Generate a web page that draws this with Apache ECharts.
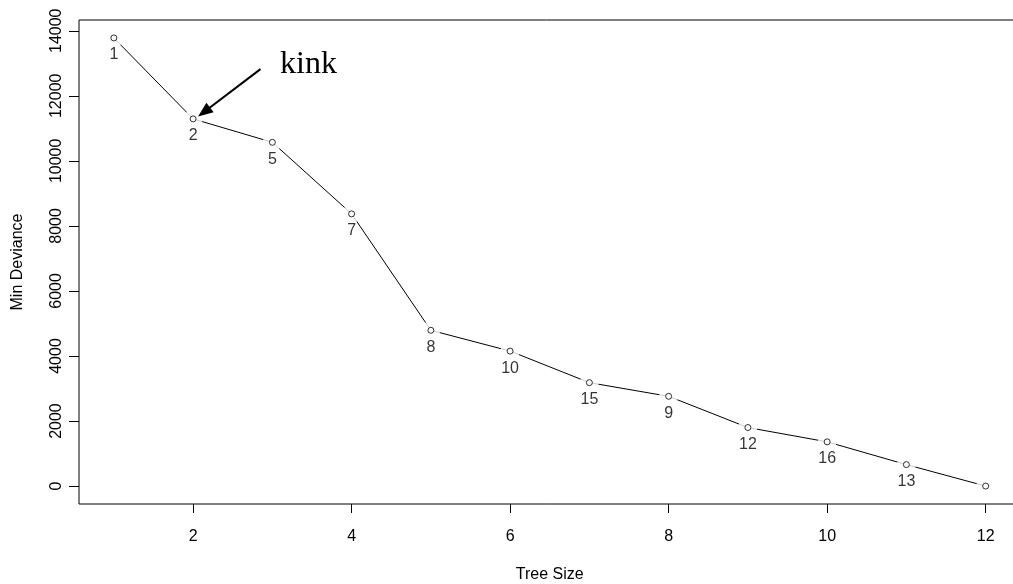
<!DOCTYPE html>
<html>
<head>
<meta charset="utf-8">
<script src="https://cdn.jsdelivr.net/npm/echarts@6/dist/echarts.min.js"></script>
<style>
  html, body { margin: 0; padding: 0; background: #fff; }
  #chart { width: 1013px; height: 584px; }
</style>
</head>
<body>
<div id="chart"></div>
<script>
// Cost-complexity pruning: minimum deviance for each tree size
const treeSize = [1, 2, 3, 4, 5, 6, 7, 8, 9, 10, 11, 12];
const minDeviance = [13780, 11290, 10570, 8370, 4790, 4150, 3180, 2760, 1800, 1360, 660, 0];
const nodeLabels = ['1', '2', '5', '7', '8', '10', '15', '9', '12', '16', '13', ''];
const xTicks = [2, 4, 6, 8, 10, 12];
const yTicks = [0, 2000, 4000, 6000, 8000, 10000, 12000, 14000];

// base-graphics style padding: 4% of the data range on each side
const xPad = 0.04 * (Math.max(...treeSize) - Math.min(...treeSize));
const yPad = 0.04 * (Math.max(...minDeviance) - Math.min(...minDeviance));

const points = treeSize.map((x, i) => [x, minDeviance[i]]);
const FONT = '"Liberation Sans", Arial, sans-serif';

const chart = echarts.init(document.getElementById('chart'), null, { renderer: 'canvas' });
chart.setOption({
  animation: false,
  backgroundColor: '#fff',
  grid: {
    left: 79, top: 20, width: 941.5, height: 484,
    outerBoundsMode: 'none',
    containLabel: false,
    show: true, borderColor: '#000', borderWidth: 1, backgroundColor: 'transparent'
  },
  xAxis: {
    type: 'value',
    min: Math.min(...treeSize) - xPad,
    max: Math.max(...treeSize) + xPad,
    name: 'Tree Size',
    nameLocation: 'middle',
    nameGap: 63,
    nameTextStyle: { color: '#000', fontSize: 16, fontFamily: FONT },
    axisLine: { show: false, onZero: false },
    splitLine: { show: false },
    axisTick: { show: true, inside: false, length: 9, lineStyle: { color: '#000' }, customValues: xTicks },
    axisLabel: { color: '#000', fontSize: 16, fontFamily: FONT, margin: 25, customValues: xTicks }
  },
  yAxis: {
    type: 'value',
    min: Math.min(...minDeviance) - yPad,
    max: Math.max(...minDeviance) + yPad,
    name: 'Min Deviance',
    nameLocation: 'middle',
    nameGap: 53,
    nameTextStyle: { color: '#000', fontSize: 16, fontFamily: FONT },
    axisLine: { show: false, onZero: false },
    splitLine: { show: false },
    axisTick: { show: true, inside: false, length: 10, lineStyle: { color: '#000' }, customValues: yTicks },
    axisLabel: {
      color: '#000', fontSize: 16, fontFamily: FONT, margin: 14, rotate: 90,
      customValues: yTicks, formatter: (v) => String(v)
    }
  },
  graphic: [{
    type: 'text',
    x: 280, y: 65,
    style: {
      text: 'kink',
      font: '32px "Liberation Serif", "Times New Roman", serif',
      fill: '#000',
      verticalAlign: 'middle'
    }
  }],
  series: [
    {
      // connecting segments
      type: 'line',
      data: points,
      symbol: 'none',
      lineStyle: { color: '#000', width: 1 },
      z: 2,
      silent: true
    },
    {
      // white halo so segments stop short of each point
      type: 'scatter',
      data: points,
      symbol: 'circle',
      symbolSize: 19,
      itemStyle: { color: '#fff' },
      z: 3,
      silent: true
    },
    {
      // open circles with node labels underneath
      type: 'scatter',
      data: points,
      symbol: 'circle',
      symbolSize: 6,
      itemStyle: { color: '#fff', borderColor: '#000', borderWidth: 1 },
      label: {
        show: true,
        position: 'inside',
        offset: [0, 17],
        color: '#000',
        fontSize: 16,
        fontFamily: FONT,
        formatter: (p) => nodeLabels[p.dataIndex]
      },
      z: 4,
      silent: true,
      markLine: {
        silent: true,
        symbol: ['none', 'triangle'],
        symbolSize: [12, 15],
        label: { show: false },
        lineStyle: { color: '#000', width: 2, type: 'solid' },
        data: [[{ coord: [2.85, 12820] }, { coord: [2.138, 11500] }]]
      }
    }
  ]
});
</script>
</body>
</html>
